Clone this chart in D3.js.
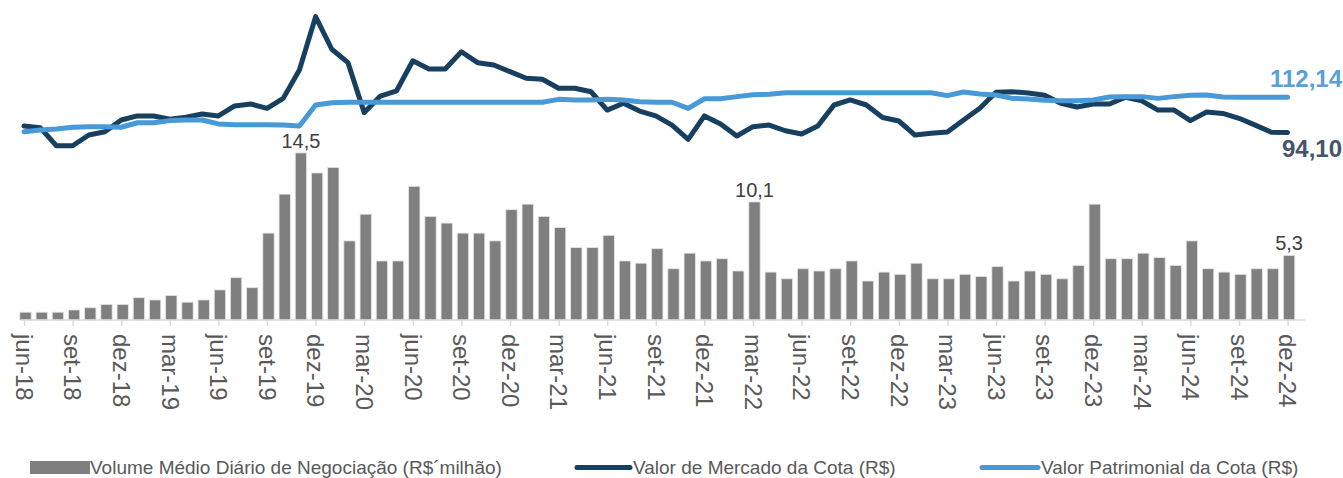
<!DOCTYPE html>
<html>
<head>
<meta charset="utf-8">
<script src="https://cdn.jsdelivr.net/npm/d3@7"></script>
<style>
  html, body { margin: 0; padding: 0; background: #ffffff; }
  svg { display: block; font-family: "Liberation Sans", Arial, sans-serif; }
</style>
</head>
<body>
<svg id="chart" width="1343" height="478"></svg>
<script>
const months = [
  "jun-18","jul-18","ago-18","set-18","out-18","nov-18","dez-18",
  "jan-19","fev-19","mar-19","abr-19","mai-19","jun-19","jul-19","ago-19","set-19","out-19","nov-19","dez-19",
  "jan-20","fev-20","mar-20","abr-20","mai-20","jun-20","jul-20","ago-20","set-20","out-20","nov-20","dez-20",
  "jan-21","fev-21","mar-21","abr-21","mai-21","jun-21","jul-21","ago-21","set-21","out-21","nov-21","dez-21",
  "jan-22","fev-22","mar-22","abr-22","mai-22","jun-22","jul-22","ago-22","set-22","out-22","nov-22","dez-22",
  "jan-23","fev-23","mar-23","abr-23","mai-23","jun-23","jul-23","ago-23","set-23","out-23","nov-23","dez-23",
  "jan-24","fev-24","mar-24","abr-24","mai-24","jun-24","jul-24","ago-24","set-24","out-24","nov-24","dez-24"
];

// Volume Médio Diário de Negociação (R$ milhão)
const volume = [
  0.2,0.2,0.2,0.4,0.6,0.9,0.9,1.5,1.3,1.7,1.1,1.3,2.2,3.3,2.4,7.3,10.8,14.5,12.7,13.2,
  6.6,9.0,4.8,4.8,11.5,8.8,8.2,7.3,7.3,6.6,9.4,9.9,8.8,7.8,6.0,6.0,7.1,4.8,4.6,5.9,
  4.1,5.5,4.8,5.0,3.9,10.1,3.8,3.2,4.1,3.9,4.1,4.8,3.0,3.8,3.6,4.6,3.2,3.2,3.6,3.4,
  4.3,3.0,3.9,3.6,3.2,4.4,9.9,5.0,5.0,5.5,5.1,4.4,6.6,4.1,3.8,3.6,4.1,4.1,5.3
];

// Valor de Mercado da Cota (R$)
const mercado = [
  97.4,96.6,87.3,87.3,92.8,94.5,100.5,102.6,102.6,100.9,101.9,103.6,102.6,107.7,108.7,106.5,111.6,126.2,153.5,136.8,
  129.9,104.3,112.8,115.5,130.9,126.7,126.7,135.5,129.9,128.7,125.3,121.9,121.4,116.8,116.8,115.0,105.6,109.1,105.1,102.6,
  97.9,90.6,102.6,98.5,92.3,97.1,97.9,95.0,93.3,97.4,108.2,110.8,108.2,101.8,100.0,92.8,93.7,94.4,100.5,106.5,
  114.7,115.0,114.4,113.2,109.1,107.2,108.7,108.7,112.2,110.3,105.6,105.6,100.2,104.6,103.9,101.4,97.9,94.2,94.10
];

// Valor Patrimonial da Cota (R$)
const patrimonial = [
  94.5,95.4,95.9,96.8,97.1,97.1,96.8,99.1,99.1,100.2,100.5,100.5,98.5,98.1,98.1,98.1,97.9,97.4,108.2,109.4,
  109.6,109.6,109.6,109.6,109.6,109.6,109.6,109.6,109.6,109.6,109.6,109.6,109.6,111.1,110.8,110.8,111.1,110.8,109.9,109.6,
  109.6,106.5,111.4,111.4,112.5,113.5,113.7,114.5,114.5,114.5,114.5,114.5,114.5,114.5,114.5,114.5,114.5,113.0,114.9,113.8,
  113.3,111.6,111.3,110.6,110.4,110.4,110.8,112.3,112.5,112.5,111.6,112.5,113.2,113.3,112.3,112.14,112.14,112.14,112.14
];

const barLabels = [ {i: 17, text: "14,5"}, {i: 45, text: "10,1"}, {i: 78, text: "5,3"} ];
const legendNames = ["Volume Médio Diário de Negociação (R$´milhão)", "Valor de Mercado da Cota (R$)", "Valor Patrimonial da Cota (R$)"];

const COL_BAR = "#7f7f7f", COL_DARK = "#173f5f", COL_LIGHT = "#4799d7";

const svg = d3.select("#chart");

const x = d3.scalePoint().domain(months).range([24, 1287.6]);
const yBar = d3.scaleLinear().domain([-0.5, 16]).range([320, 136.2]);
const yLine = d3.scaleLinear().domain([60, 160]).range([199, 4]);

const barW = 11.3, barShift = 1.5;

// bars
svg.append("g").selectAll("rect").data(volume).join("rect")
  .attr("x", (d, i) => x(months[i]) + barShift - barW / 2)
  .attr("y", d => yBar(d))
  .attr("width", barW)
  .attr("height", d => yBar(-0.5) - yBar(d))
  .attr("fill", COL_BAR)
  .attr("stroke", "#e4e4e4")
  .attr("stroke-width", 0.8);

// x axis
const tickVals = months.filter((m, i) => i % 3 === 0);
const axis = svg.append("g").attr("transform", "translate(0,320)")
  .call(d3.axisBottom(x).tickValues(tickVals).tickSize(6).tickSizeOuter(0).tickPadding(0));
axis.select(".domain").remove();
axis.append("line").attr("x1", 21).attr("x2", 1305).attr("y1", 0).attr("y2", 0)
  .attr("stroke", "#d9d9d9").attr("stroke-width", 1.6);
axis.selectAll(".tick line").attr("stroke", "#d9d9d9").attr("stroke-width", 1.4);
axis.selectAll(".tick text")
  .attr("font-family", "'Liberation Sans', Arial, sans-serif")
  .attr("font-size", 24)
  .attr("fill", "#595959")
  .attr("text-anchor", "start")
  .attr("transform", "rotate(90)")
  .attr("x", 14)
  .attr("y", 0)
  .attr("dy", "0.36em");

// lines
const lineGen = arr => d3.line().x((d, i) => x(months[i])).y(d => yLine(d))(arr);
svg.append("path").attr("d", lineGen(mercado)).attr("fill", "none")
  .attr("stroke", COL_DARK).attr("stroke-width", 5).attr("stroke-linejoin", "round").attr("stroke-linecap", "round");
svg.append("path").attr("d", lineGen(patrimonial)).attr("fill", "none")
  .attr("stroke", COL_LIGHT).attr("stroke-width", 5).attr("stroke-linejoin", "round").attr("stroke-linecap", "round");

// bar data labels
svg.append("g").selectAll("text").data(barLabels).join("text")
  .attr("x", d => x(months[d.i]) + barShift)
  .attr("y", d => yBar(volume[d.i]) - 5)
  .attr("text-anchor", "middle")
  .attr("font-size", 20)
  .attr("fill", "#404040")
  .text(d => d.text);

// end labels
svg.append("text").attr("x", 1342).attr("y", 87).attr("text-anchor", "end")
  .attr("font-size", 24).attr("font-weight", "bold").attr("fill", "#5a9fd8")
  .text(d3.format(".2f")(patrimonial[patrimonial.length - 1]).replace(".", ","));
svg.append("text").attr("x", 1342).attr("y", 157).attr("text-anchor", "end")
  .attr("font-size", 24).attr("font-weight", "bold").attr("fill", "#44546a")
  .text(d3.format(".2f")(mercado[mercado.length - 1]).replace(".", ","));

// legend
const lg = svg.append("g").attr("font-size", 19).attr("fill", "#595959");
lg.append("rect").attr("x", 30).attr("y", 461).attr("width", 60).attr("height", 13).attr("fill", COL_BAR);
lg.append("text").attr("x", 90).attr("y", 474).text(legendNames[0]);
lg.append("line").attr("x1", 577).attr("x2", 630).attr("y1", 467.5).attr("y2", 467.5)
  .attr("stroke", COL_DARK).attr("stroke-width", 5).attr("stroke-linecap", "round");
lg.append("text").attr("x", 633).attr("y", 474).text(legendNames[1]);
lg.append("line").attr("x1", 982).attr("x2", 1038).attr("y1", 467.5).attr("y2", 467.5)
  .attr("stroke", COL_LIGHT).attr("stroke-width", 5).attr("stroke-linecap", "round");
lg.append("text").attr("x", 1041).attr("y", 474).text(legendNames[2]);
</script>
</body>
</html>
